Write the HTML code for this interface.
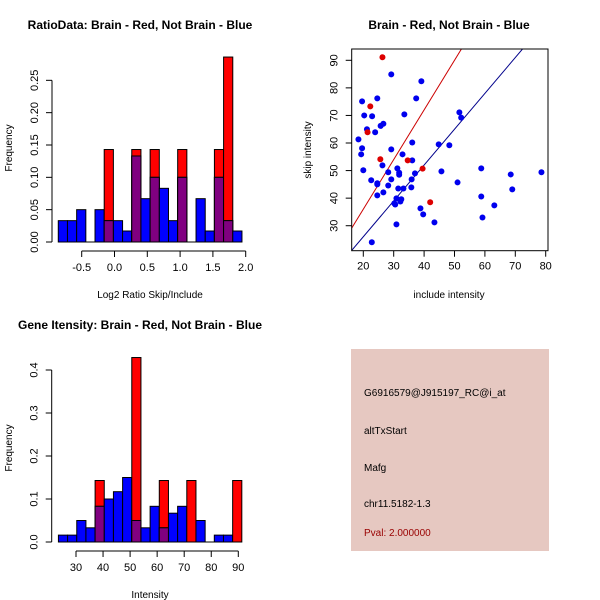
<!DOCTYPE html>
<html><head><meta charset="utf-8"><style>
body{margin:0;background:#fff}
svg{display:block;font-family:"Liberation Sans",sans-serif}
</style></head><body>
<svg id="s" width="600" height="600" viewBox="0 0 600 600"></svg>
<script>
const ratioBlue=[0.033,0.033,0.05,0,0.05,0.033,0.033,0.017,0.133,0.067,0.1,0.083,0.033,0.1,0,0.067,0.017,0.1,0.033,0.017];
const ratioRed=[0,0,0,0,0,0.143,0,0,0.143,0,0.143,0,0,0.143,0,0,0,0.143,0.286,0];
const ratioStart=-0.857, ratioWidth=0.14;
const ratioXTicks=[-0.5,0.0,0.5,1.0,1.5,2.0];
const ratioYTicks=[0.00,0.05,0.10,0.15,0.20,0.25];
const intBlue=[0.016,0.016,0.05,0.033,0.083,0.1,0.117,0.15,0.05,0.033,0.083,0.033,0.067,0.083,0,0.05,0,0.016,0.016,0];
const intRed=[0,0,0,0,0.143,0,0,0,0.429,0,0,0.143,0,0,0.143,0,0,0,0,0.143];
const intStart=23.5, intWidth=3.39;
const intXTicks=[30,40,50,60,70,80,90];
const intYTicks=[0.0,0.1,0.2,0.3,0.4];
const redX=[26.3,22.3,21.4,25.6,34.6,39.5,42.0];
const redY=[91.1,73.3,63.9,54.1,53.7,50.7,38.5];
const blueX=[29.2,39.1,19.6,24.6,37.4,20.3,22.9,33.5,51.6,52.2,21.2,23.9,25.7,26.6,18.4,19.6,19.3,29.2,32.9,36.1,36.1,44.8,48.3,20.0,26.3,28.2,31.2,31.8,31.8,37.0,45.7,58.8,68.5,78.6,22.6,24.6,29.2,35.9,51.0,24.6,28.2,31.5,33.2,35.8,69.0,24.6,26.6,30.9,32.5,32.2,30.2,30.5,58.8,63.1,38.8,39.7,43.4,30.9,59.2,22.8];
const blueY=[84.9,82.4,75.1,76.2,76.2,70.0,69.7,70.4,71.1,69.2,65.0,63.9,66.2,67.0,61.3,58.1,55.9,57.7,55.9,60.2,53.7,59.5,59.2,50.1,51.9,49.4,50.8,49.2,48.5,49.0,49.7,50.8,48.6,49.4,46.5,45.4,46.8,46.8,45.7,45.0,44.6,43.5,43.5,43.9,43.2,41.0,42.1,39.9,39.6,38.8,38.1,37.7,40.6,37.4,36.3,34.1,31.2,30.5,33.0,24.0];
const scXTicks=[20,30,40,50,60,70,80];
const scYTicks=[30,40,50,60,70,80,90];
const blueSlope=1.3, redSlope=1.8;

const svg=document.getElementById('s');const NS='http://www.w3.org/2000/svg';
function mk(t,a,txt){const e=document.createElementNS(NS,t);for(const k in a)e.setAttribute(k,a[k]);if(txt!==undefined)e.textContent=txt;svg.appendChild(e);return e;}
function txt(x,y,s,size,opt){opt=opt||{};const e=mk('text',{x:x,y:y,'font-size':size,'text-anchor':opt.anchor||'middle',fill:opt.fill||'#000','font-weight':opt.bold?'bold':'normal',transform:opt.rot?`rotate(-90 ${x} ${y})`:''},s);return e;}

function hist(p){
  const sx=v=>p.x0+(v-p.xa)*p.xs, sy=v=>p.y0-v*p.ys;
  for(let i=0;i<p.blue.length;i++){
    const l=sx(p.start+i*p.w), r=sx(p.start+(i+1)*p.w);
    const b=p.blue[i], rd=p.red[i];
    if(rd>0){const e=mk('rect',{x:l,y:sy(rd),width:r-l,height:sy(0)-sy(rd),fill:'#ff0000',stroke:'#000','stroke-width':1});
      }
    if(b>0){const e=mk('rect',{x:l,y:sy(b),width:r-l,height:sy(0)-sy(b),fill:'#0000ff',stroke:'#000','stroke-width':1});
      }
    const m=Math.min(b,rd);
    if(m>0){const e=mk('rect',{x:l,y:sy(m),width:r-l,height:sy(0)-sy(m),fill:'#800080',stroke:'#000','stroke-width':1});
      }
  }
  const ya=mk('line',{x1:p.ax,y1:sy(p.yt[0]),x2:p.ax,y2:sy(p.yt[p.yt.length-1]),stroke:'#000'});
  
  p.yt.forEach(v=>{mk('line',{x1:p.ax-6,y1:sy(v),x2:p.ax,y2:sy(v),stroke:'#000'});
    const t=txt(p.ax-14,sy(v),v.toFixed(p.yd),11,{rot:1});});
  const bl=mk('line',{x1:sx(p.start),y1:p.y0,x2:sx(p.start+p.blue.length*p.w),y2:p.y0,stroke:'#000'});
  
  const xa=mk('line',{x1:sx(p.xt[0]),y1:p.ay,x2:sx(p.xt[p.xt.length-1]),y2:p.ay,stroke:'#000'});
  
  p.xt.forEach(v=>{mk('line',{x1:sx(v),y1:p.ay,x2:sx(v),y2:p.ay+6,stroke:'#000'});
    const t=txt(sx(v),p.ay+20,v.toFixed(p.xd),11);});
}
hist({id:'ratio',blue:ratioBlue,red:ratioRed,start:ratioStart,w:ratioWidth,x0:81.7,xa:-0.5,xs:65.6,y0:242,ys:646.7,ax:52,ay:251,xt:ratioXTicks,yt:ratioYTicks,xd:1,yd:2});
hist({id:'intensity',blue:intBlue,red:intRed,start:intStart,w:intWidth,x0:76,xa:30,xs:2.705,y0:542,ys:430,ax:51.7,ay:551,xt:intXTicks,yt:intYTicks,xd:0,yd:1});

let t;
t=txt(140,29,'RatioData: Brain - Red, Not Brain - Blue',12,{bold:1});
t=txt(150,298,'Log2 Ratio Skip/Include',10);
t=txt(12,148,'Frequency',10,{rot:1});
t=txt(140,329,'Gene Itensity: Brain - Red, Not Brain - Blue',12,{bold:1});
t=txt(150,598,'Intensity',10);
t=txt(12,448,'Frequency',10,{rot:1});

const L=351.7,R=548,T=49,B=250.7;
const px=v=>363.3+(v-20)*3.04, py=v=>60.3-(v-90)*2.757;
const xmin=20+(L-363.3)/3.04, xmax=20+(R-363.3)/3.04;
const cp=mk('clipPath',{id:'c'});const cr=document.createElementNS(NS,'rect');cr.setAttribute('x',L);cr.setAttribute('y',T);cr.setAttribute('width',R-L);cr.setAttribute('height',B-T);cp.appendChild(cr);
let e=mk('line',{x1:px(xmin),y1:py(redSlope*xmin),x2:px(xmax),y2:py(redSlope*xmax),stroke:'#cc0000','clip-path':'url(#c)'});

e=mk('line',{x1:px(xmin),y1:py(blueSlope*xmin),x2:px(xmax),y2:py(blueSlope*xmax),stroke:'#00008b','clip-path':'url(#c)'});

blueX.forEach((x,i)=>{const c=mk('circle',{cx:px(x),cy:py(blueY[i]),r:3,fill:'#0000ee'});
  });
redX.forEach((x,i)=>{const c=mk('circle',{cx:px(x),cy:py(redY[i]),r:3,fill:'#dd0000'});
  });
e=mk('rect',{x:L,y:T,width:R-L,height:B-T,fill:'none',stroke:'#000'});

scXTicks.forEach(v=>{mk('line',{x1:px(v),y1:B,x2:px(v),y2:B+6,stroke:'#000'});
  const t=txt(px(v),B+19,String(v),11);});
scYTicks.forEach(v=>{mk('line',{x1:L-6,y1:py(v),x2:L,y2:py(v),stroke:'#000'});
  const t=txt(L-14,py(v),String(v),11,{rot:1});});
t=txt(449,29,'Brain - Red, Not Brain - Blue',12,{bold:1});
t=txt(449,298,'include intensity',10);
t=txt(311,150,'skip intensity',10,{rot:1});

e=mk('rect',{x:351,y:349,width:198,height:202,fill:'#e6c8c1'});

[['G6916579@J915197_RC@i_at',396,'probe-id'],['altTxStart',434,'event-type'],['Mafg',471,'gene-name'],['chr11.5182-1.3',507,'location']].forEach(a=>{
  const t=txt(364,a[1],a[0],10,{anchor:'start'});});
t=txt(364,536,'Pval: 2.000000',10,{anchor:'start',fill:'#990000'});
</script>
</body></html>
